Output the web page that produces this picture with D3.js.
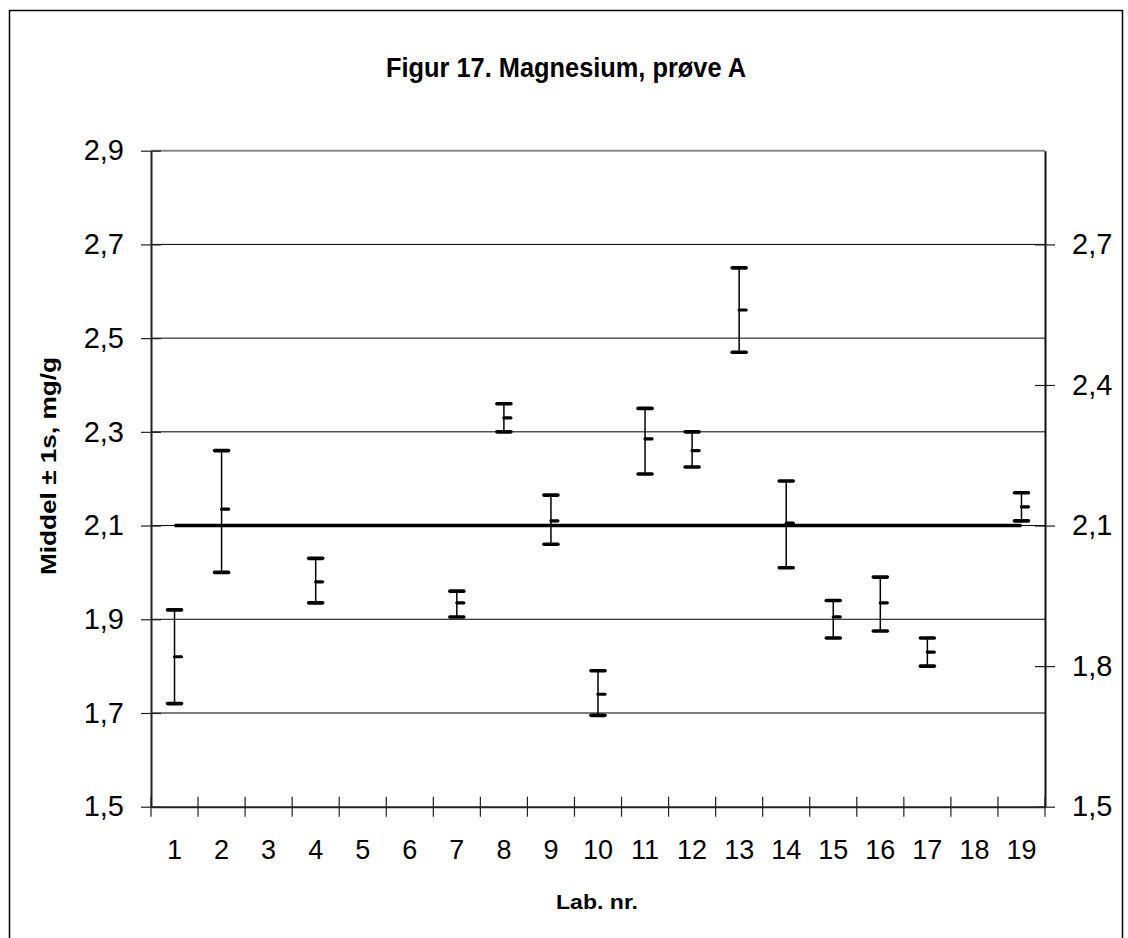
<!DOCTYPE html>
<html>
<head>
<meta charset="utf-8">
<script src="https://cdn.jsdelivr.net/npm/d3@7"></script>
<style>
  html, body { margin: 0; padding: 0; background: #fff; }
  svg { display: block; font-family: "Liberation Sans", Arial, sans-serif; }
</style>
</head>
<body>
<svg id="chart" width="1128" height="938"></svg>
<script>
// ---- data ----
const labs = ["1","2","3","4","5","6","7","8","9","10","11","12","13","14","15","16","17","18","19"];
const highValues = [1.92, 2.26, null, 2.03, null, null, 1.96, 2.36, 2.165, 1.79, 2.35, 2.30, 2.65, 2.195, 1.94, 1.99, 1.86, null, 2.17];
const meanValues = [1.82, 2.135, null, 1.98, null, null, 1.935, 2.33, 2.11, 1.74, 2.285, 2.26, 2.56, 2.105, 1.905, 1.935, 1.83, null, 2.14];
const lowValues  = [1.72, 2.00, null, 1.935, null, null, 1.905, 2.30, 2.06, 1.695, 2.21, 2.225, 2.47, 2.01, 1.86, 1.875, 1.80, null, 2.11];
const referenceValue = 2.1;
const leftTicks = [1.5, 1.7, 1.9, 2.1, 2.3, 2.5, 2.7, 2.9];
const rightTicks = [1.5, 1.8, 2.1, 2.4, 2.7];
const titleText = "Figur 17. Magnesium, prøve A";
const yTitleText = "Middel ± 1s, mg/g";
const xTitleText = "Lab. nr.";

// ---- layout ----
const svg = d3.select("#chart");
const L = 151, R = 1045, T = 150.7, B = 806.7;
const x = d3.scaleBand().domain(labs).range([L, R]).padding(0);
const y = d3.scaleLinear().domain([1.5, 2.9]).range([B, T]);
const fmt = v => d3.format(".1f")(v).replace(".", ",");

// outer border
svg.append("rect").attr("x", 9.5).attr("y", 10.5).attr("width", 1113).attr("height", 1000)
  .attr("fill", "none").attr("stroke", "#000").attr("stroke-width", 1.5);

// title
svg.append("text").attr("x", 566).attr("y", 77).attr("text-anchor", "middle")
  .attr("font-size", 27).attr("font-weight", "bold")
  .attr("textLength", 360).attr("lengthAdjust", "spacingAndGlyphs")
  .text(titleText);

// gridlines
svg.append("g").selectAll("line").data(leftTicks.filter(v => v > 1.5 && v < 2.9)).join("line")
  .attr("x1", L).attr("x2", R).attr("y1", d => y(d)).attr("y2", d => y(d))
  .attr("stroke", "#000").attr("stroke-width", 1);

// top frame
svg.append("line").attr("x1", L).attr("x2", R).attr("y1", T).attr("y2", T)
  .attr("stroke", "#888").attr("stroke-width", 2);

// left axis
const yAxisL = d3.axisLeft(y).tickValues(leftTicks).tickFormat(fmt).tickSizeInner(10).tickSizeOuter(0).tickPadding(17);
const gL = svg.append("g").attr("transform", `translate(${L},0)`).call(yAxisL);
gL.select(".domain").attr("stroke", "#222").attr("stroke-width", 2);
gL.selectAll(".tick line").attr("x2", -10).attr("x1", 10).attr("stroke", "#222").attr("stroke-width", 1.2);
gL.selectAll(".tick text").attr("font-size", 29).attr("fill", "#000").attr("font-family", "Liberation Sans, Arial, sans-serif");

// right axis
const yAxisR = d3.axisRight(y).tickValues(rightTicks).tickFormat(fmt).tickSizeInner(10).tickSizeOuter(0).tickPadding(17);
const gR = svg.append("g").attr("transform", `translate(${R},0)`).call(yAxisR);
gR.select(".domain").attr("stroke", "#111").attr("stroke-width", 2);
gR.selectAll(".tick line").attr("x1", -10).attr("x2", 10).attr("stroke", "#222").attr("stroke-width", 1.2);
gR.selectAll(".tick text").attr("font-size", 29).attr("fill", "#000").attr("font-family", "Liberation Sans, Arial, sans-serif");

// bottom axis
const xAxis = d3.axisBottom(x).tickSize(0).tickPadding(33);
const gB = svg.append("g").attr("transform", `translate(0,${B})`).call(xAxis);
gB.select(".domain").attr("stroke", "#222").attr("stroke-width", 2);
gB.selectAll(".tick text").attr("font-size", 27).attr("fill", "#000").attr("font-family", "Liberation Sans, Arial, sans-serif");
// category boundary ticks
const boundaries = labs.map(d => x(d)).concat([x(labs[labs.length - 1]) + x.bandwidth()]);
svg.append("g").selectAll("line").data(boundaries).join("line")
  .attr("x1", d => d).attr("x2", d => d).attr("y1", B - 10).attr("y2", B + 10)
  .attr("stroke", "#222").attr("stroke-width", 1.2);

// reference line
const cx = d => x(d) + x.bandwidth() / 2;
svg.append("line")
  .attr("x1", cx(labs[0])).attr("x2", cx(labs[labs.length - 1]))
  .attr("y1", y(referenceValue)).attr("y2", y(referenceValue))
  .attr("stroke", "#000").attr("stroke-width", 3.5);

// error bars
const rows = labs.map((lab, i) => ({ lab, hi: highValues[i], mean: meanValues[i], lo: lowValues[i] }))
  .filter(r => r.hi != null);
const gE = svg.append("g");
rows.forEach(r => {
  const c = cx(r.lab);
  gE.append("line").attr("x1", c).attr("x2", c).attr("y1", y(r.hi)).attr("y2", y(r.lo))
    .attr("stroke", "#000").attr("stroke-width", 1.5);
  [r.hi, r.lo].forEach(v => {
    gE.append("line").attr("x1", c - 7).attr("x2", c + 7).attr("y1", y(v)).attr("y2", y(v))
      .attr("stroke", "#000").attr("stroke-width", 3.6).attr("stroke-linecap", "round");
  });
  gE.append("line").attr("x1", c).attr("x2", c + 7).attr("y1", y(r.mean)).attr("y2", y(r.mean))
    .attr("stroke", "#000").attr("stroke-width", 3.2).attr("stroke-linecap", "round");
});

// axis titles
svg.append("text").attr("transform", `translate(56,466) rotate(-90)`).attr("text-anchor", "middle")
  .attr("font-size", 22).attr("font-weight", "bold")
  .attr("textLength", 218).attr("lengthAdjust", "spacingAndGlyphs")
  .text(yTitleText);
svg.append("text").attr("x", 597).attr("y", 909).attr("text-anchor", "middle")
  .attr("font-size", 21).attr("font-weight", "bold")
  .attr("textLength", 82).attr("lengthAdjust", "spacingAndGlyphs")
  .text(xTitleText);
</script>
</body>
</html>
